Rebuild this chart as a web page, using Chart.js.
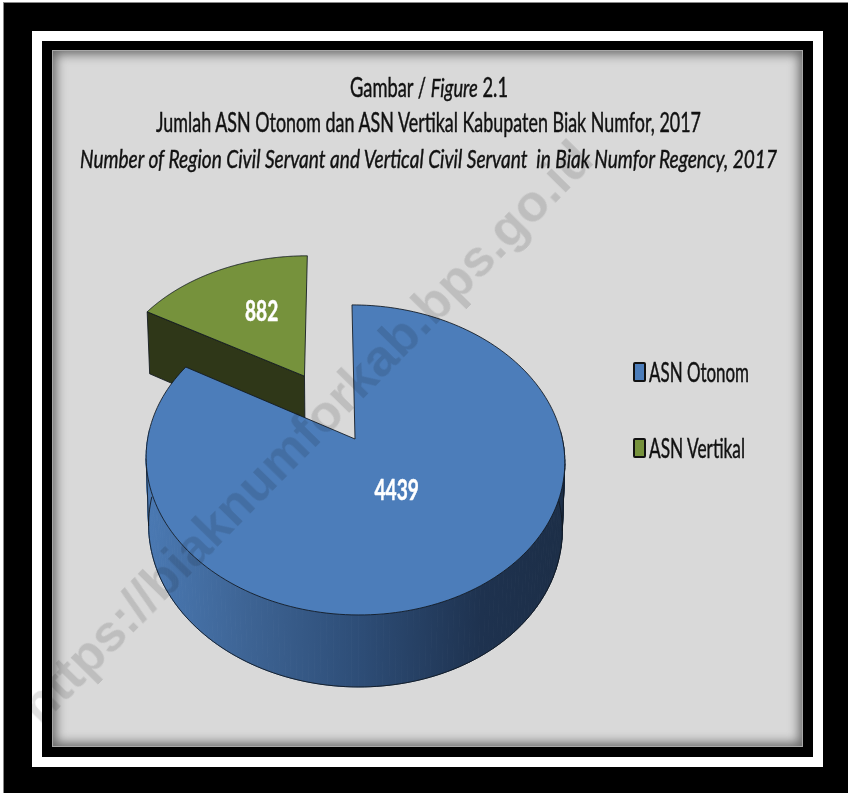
<!DOCTYPE html>
<html>
<head>
<meta charset="utf-8">
<title>Jumlah ASN Kabupaten Biak Numfor 2017</title>
<script src="https://cdn.jsdelivr.net/npm/chart.js@4"></script>
<style>
  html, body { margin: 0; padding: 0; background: #fff; }
  #page { position: relative; width: 848px; height: 793px; overflow: hidden; }
  .frame { position: absolute; box-sizing: border-box; }
  #outer { left: 3px; top: 2px; width: 845px; height: 791px; background: #000; border-left: 1px solid #888; border-top: 1px solid #888; }
  #white { left: 32px; top: 31px; width: 791px; height: 736px; background: #fff; }
  #black { left: 42px; top: 41px; width: 771px; height: 716px; background: #000; }
  #panel { left: 52px; top: 50px; width: 751px; height: 697px; background: #d9d9d9; border: 1px solid #a8a8a8; box-shadow: inset 0 0 11px 3px #666; }
  canvas { position: absolute; left: 0; top: 0; }
  .line { position: absolute; white-space: pre; font-family: Lato, sans-serif; font-size: 26px; line-height: 30px; color: #111; transform-origin: 0 50%; -webkit-text-stroke: 0.45px #111; }
  .legend-box { position: absolute; width: 13px; height: 20px; box-sizing: border-box; border: 2px solid #111; border-radius: 2px; }
  #mark { position: absolute; left: 28px; top: 688px; white-space: pre; font: bold 52px "Liberation Sans", sans-serif; line-height: 52px; color: rgba(0, 0, 0, 0.12); transform-origin: 0 50%; transform: rotate(-45.5deg); }
</style>
</head>
<body>
<div id="page">
  <div class="frame" id="outer"></div>
  <div class="frame" id="white"></div>
  <div class="frame" id="black"></div>
  <div class="frame" id="panel"></div>
  <canvas id="asnChart" width="848" height="793"></canvas>
  <div id="texts"></div>
  <div id="mark">https://biaknumforkab.bps.go.id</div>
</div>
<script>
const categories = ["ASN Otonom", "ASN Vertikal"];
const employees = [4439, 882];
const sliceColors = ["#4c7dba", "#76923c"];

// perspective of the pie's top plane, origin on the blue slice's tip
const tipX = 355, tipY = 439;
const scaleX = 207.4, scaleY = 152.2;
const shearX = 3.43;
const tilt = 0.135;
const explode = 0.252;
const labelRadius = [0.375, 0.56];
const labelTurn = [0, 0.075];

function project(x, y, bottom) {
  const w = 1 - tilt * y;
  let sx = tipX + (scaleX * x + shearX * y) / w;
  let sy = tipY + scaleY * y / w;
  if (bottom) {
    sx = tipX + (sx - tipX) * 0.988;
    sy += 66.85 + 5.15 * y;
  }
  return [sx, sy];
}

// plane position of a point on a slice, slices pushed out along their mid angle
function planePoint(el, angle, radius, origin) {
  const mid = (el.startAngle + el.endAngle) / 2;
  return [
    radius * Math.cos(angle) + explode * Math.cos(mid) - origin[0],
    radius * Math.sin(angle) + explode * Math.sin(mid) - origin[1],
  ];
}

function tracePoints(ctx, points) {
  points.forEach((p, i) => (i ? ctx.lineTo(p[0], p[1]) : ctx.moveTo(p[0], p[1])));
}

const pie3d = {
  id: "pie3d",
  beforeDatasetsDraw(chart) {
    const ctx = chart.ctx;
    const arcs = chart.getDatasetMeta(0).data;
    const midBlue = (arcs[0].startAngle + arcs[0].endAngle) / 2;
    const origin = [explode * Math.cos(midBlue), explode * Math.sin(midBlue)];
    const edge = "rgba(15, 22, 30, 0.85)";

    ctx.save();
    ctx.lineJoin = "round";
    ctx.lineWidth = 1;
    ctx.strokeStyle = edge;

    [1, 0].forEach((i) => {
      const el = arcs[i];
      const rim = (bottom) => {
        const pts = [];
        for (let k = 0; k <= 200; k++) {
          const a = el.startAngle + (el.endAngle - el.startAngle) * k / 200;
          const p = planePoint(el, a, 1, origin);
          pts.push(project(p[0], p[1], bottom));
        }
        return pts;
      };
      const center = planePoint(el, 0, 0, origin);
      const apex = project(center[0], center[1]);
      const top = rim(false);

      if (i === 1) {
        // cut wall of the green slice, facing the viewer
        const corner = planePoint(el, el.startAngle, 1, origin);
        ctx.beginPath();
        tracePoints(ctx, [
          apex,
          project(corner[0], corner[1]),
          project(corner[0], corner[1], true),
          project(center[0], center[1], true),
        ]);
        ctx.closePath();
        ctx.fillStyle = "#2f3718";
        ctx.fill();
        ctx.stroke();
      } else {
        // outer wall of the blue slice, front part only, one quad per rim step
        const shade = ctx.createLinearGradient(146, 0, 565, 0);
        shade.addColorStop(0, "#4a79b3");
        shade.addColorStop(0.25, "#3d6393");
        shade.addColorStop(0.5, "#2e4e78");
        shade.addColorStop(0.8, "#1e324f");
        shade.addColorStop(1, "#1c2e47");
        const low = rim(true);
        const front = top.map((p, k) => k).filter((k) => top[k][1] > tipY - 10);
        ctx.fillStyle = shade;
        ctx.strokeStyle = shade;
        front.slice(0, -1).forEach((k) => {
          ctx.beginPath();
          tracePoints(ctx, [top[k], top[k + 1], low[k + 1], low[k]]);
          ctx.closePath();
          ctx.fill();
          ctx.stroke();
        });
        ctx.strokeStyle = edge;
        ctx.beginPath();
        tracePoints(ctx, front.map((k) => low[k]));
        ctx.stroke();
        // left and right silhouette of the wall
        let left = front[0], right = front[0];
        front.forEach((k) => {
          if (top[k][0] < top[left][0]) left = k;
          if (top[k][0] > top[right][0]) right = k;
        });
        [left, right].forEach((k) => {
          ctx.beginPath();
          tracePoints(ctx, [top[k], low[k]]);
          ctx.stroke();
        });
      }

      ctx.beginPath();
      tracePoints(ctx, [apex].concat(top));
      ctx.closePath();
      ctx.fillStyle = el.options.backgroundColor;
      ctx.fill();
      ctx.stroke();
    });

    // value labels
    ctx.fillStyle = "#fff";
    ctx.strokeStyle = "#fff";
    ctx.lineWidth = 0.5;
    ctx.textAlign = "center";
    ctx.textBaseline = "middle";
    ctx.font = "bold 29px Lato, sans-serif";
    arcs.forEach((el, i) => {
      const mid = (el.startAngle + el.endAngle) / 2;
      const p = planePoint(el, mid + labelTurn[i], labelRadius[i], origin);
      const s = project(p[0], p[1]);
      ctx.save();
      ctx.translate(s[0], s[1]);
      ctx.scale(0.66, 1);
      ctx.fillText(String(employees[i]), 0, 0);
      ctx.strokeText(String(employees[i]), 0, 0);
      ctx.restore();
    });
    ctx.restore();
    return false;
  },
};

const chart = new Chart(document.getElementById("asnChart"), {
  type: "pie",
  data: {
    labels: categories,
    datasets: [{ data: employees, backgroundColor: sliceColors, borderWidth: 0 }],
  },
  options: {
    responsive: false,
    animation: false,
    plugins: { legend: { display: false }, tooltip: { enabled: false } },
  },
  plugins: [pie3d],
});

// squeeze a text line to a set width, the font is wider than the one wanted
const texts = document.getElementById("texts");
function addLine(html, left, midY, width) {
  const el = document.createElement("div");
  el.className = "line";
  el.innerHTML = html;
  el.style.left = left + "px";
  el.style.top = midY - 15 + "px";
  texts.appendChild(el);
  el.style.transform = "scaleX(" + width / el.getBoundingClientRect().width + ")";
}

document.fonts.ready.then(() => {
  addLine("Gambar / <i>Figure</i> 2.1", 350, 87, 158);
  addLine("Jumlah ASN Otonom dan ASN Vertikal Kabupaten Biak Numfor, 2017", 156, 122, 545);
  addLine("<i>Number of Region Civil Servant and Vertical Civil Servant  in Biak Numfor Regency, 2017</i>", 80, 158, 697);

  // legend built from the chart's own label items
  const items = Chart.overrides.pie.plugins.legend.labels.generateLabels(chart);
  const legendY = [372, 448];
  const legendW = [100, 96];
  items.forEach((item, i) => {
    const box = document.createElement("div");
    box.className = "legend-box";
    box.style.left = "633px";
    box.style.top = legendY[i] - 10 + "px";
    box.style.background = item.fillStyle;
    texts.appendChild(box);
    addLine(item.text, 649, legendY[i], legendW[i]);
  });
});
</script>
</body>
</html>
